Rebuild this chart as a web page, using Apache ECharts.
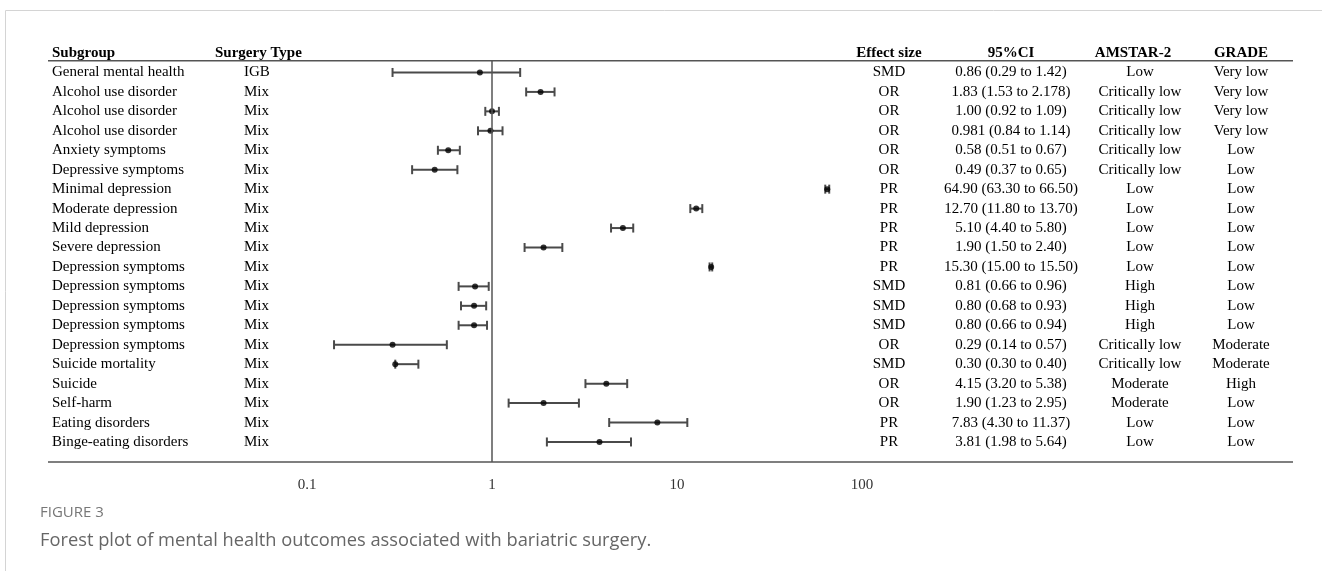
<!DOCTYPE html>
<html>
<head>
<meta charset="utf-8">
<script src="https://cdn.jsdelivr.net/npm/echarts@6/dist/echarts.min.js"></script>
<style>
  html, body { margin: 0; padding: 0; background: #fff; }
  #chart { width: 1322px; height: 571px; }
</style>
</head>
<body>
<div id="chart"></div>
<script>
// Table columns, one entry per row (top to bottom)
const subgroups = [
  'General mental health', 'Alcohol use disorder', 'Alcohol use disorder', 'Alcohol use disorder',
  'Anxiety symptoms', 'Depressive symptoms', 'Minimal depression', 'Moderate depression',
  'Mild depression', 'Severe depression', 'Depression symptoms', 'Depression symptoms',
  'Depression symptoms', 'Depression symptoms', 'Depression symptoms', 'Suicide mortality',
  'Suicide', 'Self-harm', 'Eating disorders', 'Binge-eating disorders'
];
const surgeryTypes = ['IGB', 'Mix', 'Mix', 'Mix', 'Mix', 'Mix', 'Mix', 'Mix', 'Mix', 'Mix',
  'Mix', 'Mix', 'Mix', 'Mix', 'Mix', 'Mix', 'Mix', 'Mix', 'Mix', 'Mix'];
const effectTypes = ['SMD', 'OR', 'OR', 'OR', 'OR', 'OR', 'PR', 'PR', 'PR', 'PR',
  'PR', 'SMD', 'SMD', 'SMD', 'OR', 'SMD', 'OR', 'OR', 'PR', 'PR'];
const estimates = ['0.86', '1.83', '1.00', '0.981', '0.58', '0.49', '64.90', '12.70', '5.10', '1.90',
  '15.30', '0.81', '0.80', '0.80', '0.29', '0.30', '4.15', '1.90', '7.83', '3.81'];
const lowerCI = ['0.29', '1.53', '0.92', '0.84', '0.51', '0.37', '63.30', '11.80', '4.40', '1.50',
  '15.00', '0.66', '0.68', '0.66', '0.14', '0.30', '3.20', '1.23', '4.30', '1.98'];
const upperCI = ['1.42', '2.178', '1.09', '1.14', '0.67', '0.65', '66.50', '13.70', '5.80', '2.40',
  '15.50', '0.96', '0.93', '0.94', '0.57', '0.40', '5.38', '2.95', '11.37', '5.64'];
const amstar = ['Low', 'Critically low', 'Critically low', 'Critically low', 'Critically low',
  'Critically low', 'Low', 'Low', 'Low', 'Low', 'Low', 'High', 'High', 'High',
  'Critically low', 'Critically low', 'Moderate', 'Moderate', 'Low', 'Low'];
const grades = ['Very low', 'Very low', 'Very low', 'Very low', 'Low', 'Low', 'Low', 'Low', 'Low', 'Low',
  'Low', 'Low', 'Low', 'Low', 'Moderate', 'Moderate', 'High', 'Low', 'Low', 'Low'];

const ciLabels = estimates.map((e, i) => e + ' (' + lowerCI[i] + ' to ' + upperCI[i] + ')');

const serif = '"Liberation Serif", "Times New Roman", serif';
const chart = echarts.init(document.getElementById('chart'));

// one category axis per text column, all anchored at the table's left edge (x=48)
function textColumn(data, margin, align) {
  return {
    type: 'category', gridIndex: 1, inverse: true, position: 'left', data: data,
    axisLine: { show: false }, axisTick: { show: false },
    axisLabel: { interval: 0, margin: margin, align: align, color: '#000', fontFamily: serif, fontSize: 15 }
  };
}

function header(text, x, align) {
  return {
    type: 'text', x: x, y: 53,
    style: { text: text, textAlign: align, textVerticalAlign: 'middle', fill: '#000',
      font: 'bold 15px ' + serif }
  };
}

const option = {
  animation: false,
  grid: [
    { left: 307, right: 460, top: 60.8, height: 401.2 },
    { left: 48, right: 29, top: 62.775, height: 389 }
  ],
  xAxis: [
    {
      type: 'log', logBase: 10, min: 0.1, max: 100, gridIndex: 0,
      axisLine: { show: false }, axisTick: { show: false }, splitLine: { show: false },
      axisLabel: {
        margin: 16, color: '#333', fontFamily: serif, fontSize: 15,
        formatter: v => String(v)
      }
    },
    { type: 'value', gridIndex: 1, show: false }
  ],
  yAxis: [
    { type: 'value', gridIndex: 0, inverse: true, min: -0.6, max: 20.03, show: false },
    textColumn(subgroups, -4, 'left'),
    textColumn(surgeryTypes, -196, 'left'),
    textColumn(effectTypes, -841, 'center'),
    textColumn(ciLabels, -963, 'center'),
    textColumn(amstar, -1092, 'center'),
    textColumn(grades, -1193, 'center')
  ],
  series: [
    {
      type: 'custom',
      xAxisIndex: 0, yAxisIndex: 0,
      encode: { x: [1, 2], y: 0 },
      data: estimates.map((e, i) => [i, Number(lowerCI[i]), Number(upperCI[i])]),
      renderItem: function (params, api) {
        const row = api.value(0);
        const lo = api.coord([api.value(1), row]);
        const hi = api.coord([api.value(2), row]);
        const style = { stroke: '#4a4a4a', lineWidth: 2 };
        const cap = 4.5;
        return {
          type: 'group',
          children: [
            { type: 'line', shape: { x1: lo[0], y1: lo[1], x2: hi[0], y2: hi[1] }, style: style },
            { type: 'line', shape: { x1: lo[0], y1: lo[1] - cap, x2: lo[0], y2: lo[1] + cap }, style: style },
            { type: 'line', shape: { x1: hi[0], y1: hi[1] - cap, x2: hi[0], y2: hi[1] + cap }, style: style }
          ]
        };
      }
    },
    {
      type: 'scatter',
      xAxisIndex: 0, yAxisIndex: 0,
      symbol: 'circle', symbolSize: 6,
      itemStyle: { color: '#000' },
      data: estimates.map((e, i) => [Number(e), i]),
      markLine: {
        silent: true, symbol: 'none',
        label: { show: false },
        lineStyle: { color: '#555', width: 1.5, type: 'solid' },
        data: [{ xAxis: 1 }]
      }
    }
  ],
  graphic: [
    // figure frame
    { type: 'rect', shape: { x: 5.5, y: 10.5, width: 1400, height: 600 },
      style: { fill: 'none', stroke: '#d4d4d4', lineWidth: 1 }, silent: true },
    header('Subgroup', 52, 'left'),
    header('Surgery Type', 215, 'left'),
    header('Effect size', 889, 'center'),
    header('95%CI', 1011, 'center'),
    header('AMSTAR-2', 1133, 'center'),
    header('GRADE', 1241, 'center'),
    { type: 'line', shape: { x1: 48, y1: 60.8, x2: 1293, y2: 60.8 }, style: { stroke: '#555', lineWidth: 1.5 } },
    { type: 'line', shape: { x1: 48, y1: 462, x2: 1293, y2: 462 }, style: { stroke: '#555', lineWidth: 1.5 } },
    { type: 'text', x: 40, y: 513,
      style: { text: 'FIGURE 3', textVerticalAlign: 'middle', fill: '#777',
        font: '15px "Open Sans", sans-serif' } },
    { type: 'text', x: 40, y: 541,
      style: { text: 'Forest plot of mental health outcomes associated with bariatric surgery.',
        textVerticalAlign: 'middle', fill: '#666', font: '18.3px "Open Sans", sans-serif' } }
  ]
};

chart.setOption(option);
</script>
</body>
</html>
